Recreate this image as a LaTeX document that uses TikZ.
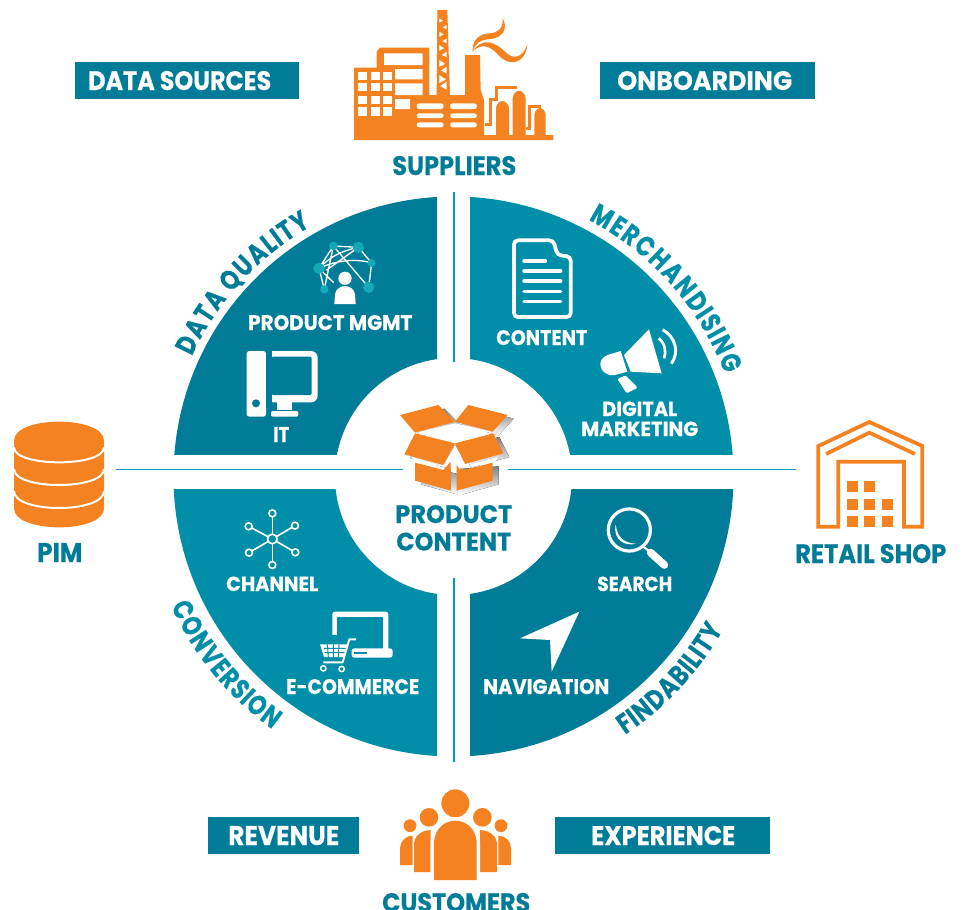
\documentclass[tikz,border=0pt]{standalone}
\usepackage{fontspec}
\setmainfont{Poppins}[BoldFeatures={FakeBold=0.35}]
\newfontfamily\arcfont[FakeStretch=0.8,BoldFeatures={FakeBold=0.35}]{Poppins}
\definecolor{tealdark}{HTML}{007C98}
\definecolor{teallight}{HTML}{008EA9}
\definecolor{linecyan}{HTML}{009DBB}
\definecolor{orangemain}{HTML}{F58220}
\definecolor{netteal}{HTML}{14A9B8}
\definecolor{shade}{HTML}{D1D3D4}
\newdimen\pxu \pxu=.75pt
\newbox\arcbox
\newdimen\arcd
% name, x, baseline y, width, height, colour, text
\newcommand{\lab}[7]{\node[anchor=base west,inner sep=0pt,text=#6] (#1) at (#2,#3) {\resizebox{#4\pxu}{#5\pxu}{\bfseries #7}};}
\newcommand{\arcset}{\arcfont\bfseries\fontsize{21}{21}\selectfont}
\newcommand{\arcmeasure}[1]{\setbox\arcbox=\hbox{\pgfinterruptpicture\arcset #1\endpgfinterruptpicture}\arcd=\wd\arcbox}
% name, colour, radius, start angle, end angle, letters
\newcommand{\arclab}[6]{%
 \gdef\arctot{0}%
 \foreach \c in {#6} {\arcmeasure{\c}\pgfmathparse{\arctot+\arcd}\global\let\arctot\pgfmathresult}%
 \gdef\arcacc{0}%
 \foreach \c [count=\i] in {#6} {%
  \arcmeasure{\c}%
  \pgfmathsetmacro{\arcw}{\arcd}%
  \pgfmathsetmacro{\arcang}{#4+(#5-#4)*(\arcacc+\arcw/2)/\arctot}%
  \pgfmathsetmacro{\arcrot}{\arcang+(#5<#4?-90:90)}%
  \node[anchor=base,inner sep=0pt,text=#2,font=\arcset,rotate=\arcrot] (#1\i) at ({453.5+#3*cos(\arcang)},{476.5-#3*sin(\arcang)}) {\c};
  \pgfmathparse{\arcacc+\arcw}\global\let\arcacc\pgfmathresult
 }%
}
\tikzset{
  zoomat/.style 2 args={shift={(#1,#2)},x=.25pt,y=-.25pt},
  banner/.style={fill=tealdark,draw=none},
  whiteline/.style={draw=white,line cap=round,line join=round},
  ball/.style={fill=netteal,draw=none}
}
\begin{document}
\begin{tikzpicture}[x=.75pt,y=-.75pt]
\useasboundingbox (0,0) rectangle (965,910);
% banners
\fill[banner] (75,62) rectangle (299,99);
\fill[banner] (600,62) rectangle (815,99);
\fill[banner] (208,817) rectangle (359,854);
\fill[banner] (555,817) rectangle (770,854);
\lab{ds}{88}{90}{183}{19}{white}{DATA SOURCES}
\lab{ob}{617}{90}{175}{19}{white}{ONBOARDING}
\lab{rev}{228}{845}{111}{19}{white}{REVENUE}
\lab{exp}{591}{845}{144}{19}{white}{EXPERIENCE}
\lab{sup}{392}{175}{124}{19}{tealdark}{SUPPLIERS}
\lab{pim}{37}{562}{45}{19}{tealdark}{PIM}
\lab{shop}{795}{563}{151}{19}{tealdark}{RETAIL SHOP}
\lab{cust}{382}{912}{148}{19}{tealdark}{CUSTOMERS}
\lab{pc1}{395}{523}{117}{18}{tealdark}{PRODUCT}
\lab{pc2}{396}{550.5}{115}{18}{tealdark}{CONTENT}
% quadrants
\coordinate (hub) at (453.5,476.5);
\begin{scope}
 \clip (0,0) rectangle (437,454.5);
 \fill[tealdark,even odd rule] (hub) circle[radius=210pt] (hub) circle[radius=88.9pt];
\end{scope}
\begin{scope}
 \clip (470,0) rectangle (965,454.5);
 \fill[teallight,even odd rule] (hub) circle[radius=210pt] (hub) circle[radius=88.9pt];
\end{scope}
\begin{scope}
 \clip (0,489) rectangle (437,910);
 \fill[teallight,even odd rule] (hub) circle[radius=210pt] (hub) circle[radius=88.9pt];
\end{scope}
\begin{scope}
 \clip (470,489) rectangle (965,910);
 \fill[tealdark,even odd rule] (hub) circle[radius=210pt] (hub) circle[radius=88.9pt];
\end{scope}
% axis lines
\coordinate (vt1) at (454,192); \coordinate (vt2) at (454,362);
\coordinate (vb1) at (454,578); \coordinate (vb2) at (454,762);
\coordinate (hl1) at (116,469.5); \coordinate (hl2) at (403,469.5);
\coordinate (hr1) at (508,469.5); \coordinate (hr2) at (796,469.5);
\draw[linecyan,line width=2pt] (vt1) -- (vt2);
\draw[linecyan,line width=2pt] (vb1) -- (vb2);
\draw[linecyan,line width=1.2pt] (hl1) -- (hl2);
\draw[linecyan,line width=1.2pt] (hr1) -- (hr2);
% curved labels
\arclab{dq}{tealdark}{288}{155.5}{119.5}{D,A,T,A,~,Q,U,A,L,I,T,Y}
\arclab{mc}{teallight}{290}{62.5}{20.5}{M,E,R,C,H,A,N,D,I,S,I,N,G}
\arclab{cv}{teallight}{311}{204.5}{234.5}{C,O,N,V,E,R,S,I,O,N}
\arclab{fd}{tealdark}{310}{-56.5}{-29.5}{F,I,N,D,A,B,I,L,I,T,Y}
% quadrant labels
\lab{pm}{248}{330}{164}{15}{white}{PRODUCT MGMT}
\lab{it}{273}{442}{16}{15}{white}{IT}
\lab{con}{496}{345}{91}{15}{white}{CONTENT}
\lab{dg}{602}{416}{75}{14.5}{white}{DIGITAL}
\lab{mk}{581}{436}{117}{14.5}{white}{MARKETING}
\lab{ch}{226}{591}{92}{14.5}{white}{CHANNEL}
\lab{ec}{286}{694}{133}{15}{white}{E-COMMERCE}
\lab{se}{597}{591}{75}{14.5}{white}{SEARCH}
\lab{na}{483}{694}{126}{15}{white}{NAVIGATION}
% factory
\begin{scope}[zoomat={340}{0}]
 \fill[orangemain] (42,420) -- (42,203) -- (110,203) -- (110,155) -- (120,143) -- (268,143) -- (268,285) -- (290,285) -- (292,30) -- (322,30) -- (330,285) -- (375,285) -- (375,165) -- (420,165) -- (422,270) -- (432,300) -- (432,405) -- (640,405) -- (640,420) -- cycle;
 \fill[white] (132,160) rectangle (248,195) (165,207) rectangle (248,238) (165,250) rectangle (248,285) (165,297) rectangle (210,327);
 \foreach \cx in {55,93,128} \foreach \cy/\hh in {217/23,250/23,288/24,322/26} {\fill[white] (\cx,\cy) rectangle ++(27,\hh);}
 \foreach \cx in {230,330} {\fill[white,rounded corners=2pt] (\cx,310) rectangle ++(81,17) (\cx,340) rectangle ++(81,14) (\cx,367) rectangle ++(81,15);}
 \foreach \ty/\tw in {55/.6,95/.7,135/.8,180/.95,225/1.1} {
  \fill[white] (298,\ty) -- ++(18*\tw,12*\tw) -- ++(-18*\tw,10*\tw) -- cycle;
  \fill[white] (320,\ty+20) -- ++(0,22*\tw) -- ++(-18*\tw,-10*\tw) -- cycle;
 }
 \fill[orangemain] (468,405) -- (468,325) .. controls (468,310) and (482,303) .. (487,303) .. controls (492,303) and (507,310) .. (507,325) -- (507,405) -- cycle;
 \fill[orangemain] (518,405) -- (518,295) .. controls (518,280) and (532,272) .. (537,272) .. controls (542,272) and (557,280) .. (557,295) -- (557,405) -- cycle;
 \fill[orangemain] (583,405) -- (583,345) .. controls (583,332) and (595,324) .. (600,324) .. controls (605,324) and (617,332) .. (617,345) -- (617,405) -- cycle;
 \draw[orangemain,line width=2pt] (470,300) -- (470,262) -- (530,262);
 \draw[orangemain,line width=2pt] (436,374) -- (452,374) -- (452,299) -- (474,299);
 \draw[orangemain,line width=2pt] (558,385) -- (568,385) -- (568,320) -- (602,320);
 \fill[orangemain] (398,155) .. controls (395,115) and (425,100) .. (450,100) .. controls (475,98) and (490,85) .. (488,55) .. controls (505,85) and (490,115) .. (445,118) .. controls (420,120) and (405,130) .. (398,155) -- cycle;
 \fill[orangemain] (398,155) .. controls (425,110) and (465,125) .. (495,155) .. controls (520,180) and (545,175) .. (562,135) .. controls (555,195) and (505,200) .. (475,165) .. controls (450,135) and (420,130) .. (398,155) -- cycle;
\end{scope}
% product mgmt icon
\begin{scope}[zoomat={170}{195}]
 \draw[whiteline,line width=1pt] (490,153) -- (565,157) (490,153) -- (447,220) (565,157) -- (605,204) (605,204) -- (596,277) (447,220) -- (463,283) (490,153) -- (596,277) (490,153) -- (463,283) (447,220) .. controls (490,175) and (530,165) .. (565,157) (447,220) .. controls (500,195) and (560,190) .. (605,204) (565,157) -- (470,225) (447,220) -- (490,262);
 \fill[ball] (490,153) circle[radius=3.2pt] (565,157) circle[radius=4.2pt] (605,204) circle[radius=3pt] (447,220) circle[radius=4.2pt] (463,283) circle[radius=3.2pt] (596,277) circle[radius=4.2pt];
 \fill[tealdark] (525,250) circle[radius=6.5pt];
 \fill[white] (525,250) circle[radius=5pt];
 \fill[tealdark] (485,335) -- (488,290) .. controls (495,262) and (555,262) .. (562,290) -- (565,335) -- cycle;
 \fill[white] (493,327) -- (495,298) .. controls (500,265) and (550,265) .. (555,298) -- (557,327) -- cycle;
 % IT icon
 \fill[white,rounded corners=2pt] (230,468) rectangle (288,665);
 \fill[tealdark] (258,625) circle[radius=3pt];
 \fill[white,rounded corners=5pt] (290,468) -- (443,468) -- (443,622) -- (290,622) -- cycle;
 \fill[tealdark] (288,460) rectangle (305,640);
 \fill[tealdark,rounded corners=1pt] (305,485) -- (425,485) -- (425,600) -- (305,600) -- cycle;
 \fill[white] (320,622) rectangle (365,645);
 \fill[white,rounded corners=1.5pt] (303,648) rectangle (385,665);
\end{scope}
% document and megaphone
\begin{scope}[zoomat={470}{195}]
 \draw[white,line width=2.8pt,rounded corners=3pt] (132,136) -- (250,136) -- (262,180) -- (302,185) -- (302,366) -- (132,366) -- cycle;
 \draw[whiteline,line width=2.6pt] (162,198) -- (226,198) (162,228) -- (272,228) (162,258) -- (272,258) (162,290) -- (272,290) (162,320) -- (272,320);
 \fill[white] (462,480) -- (537,403) -- (575,535) -- (482,530) -- cycle;
 \fill[white] (452,468) .. controls (425,478) and (395,478) .. (391,505) .. controls (390,530) and (415,545) .. (435,540) -- (472,530) -- cycle;
 \fill[white,rounded corners=1pt] (442,552) -- (466,541) -- (503,578) -- (470,595) -- cycle;
 \draw[white,line width=2pt] (566,430) .. controls (585,445) and (590,470) .. (582,490);
 \draw[white,line width=2.2pt] (578,404) .. controls (615,425) and (630,470) .. (604,506);
\end{scope}
% channel and e-commerce
\begin{scope}[zoomat={170}{485}]
 \foreach \sx/\sy in {307/85,375/122,376/202,307/240,237/203,236/124} {
  \draw[white,line width=1.2pt] (307,162) -- (\sx,\sy);
  \draw[white,line width=1.2pt,fill=teallight] (\sx,\sy) circle[radius=2.6pt];
 }
 \draw[white,line width=1.2pt,fill=teallight] (307,162) circle[radius=3.6pt];
 \fill[white,rounded corners=2pt] (487,380) rectangle (655,495);
 \fill[teallight] (502,397) rectangle (640,495);
 \fill[white,rounded corners=2pt] (545,490) rectangle (668,518);
 \fill[teallight] (553,502) rectangle (590,508);
 \fill[teallight] (440,450) rectangle (540,570);
 \fill[teallight] (530,452) rectangle (563,490);
 \fill[white] (450,478) -- (532,478) -- (521,516) -- (462,516) -- cycle;
 \draw[teallight,line width=.7pt] (462,490) -- (528,490) (464,503) -- (525,503) (472,478) -- (475,516) (490,478) -- (490,516) (507,478) -- (505,516);
 \draw[white,line width=1.4pt,line join=round] (558,463) -- (538,463) -- (518,532) -- (460,532);
 \draw[white,line width=1.1pt] (460,550) circle[radius=2pt] (515,552) circle[radius=2pt];
\end{scope}
% search and navigation
\begin{scope}[zoomat={470}{485}]
 \draw[white,line width=2.4pt] (478,135) circle[radius=15.8pt];
 \draw[white,line width=1.6pt] (520,185) -- (540,200);
 \draw[white,line width=5.8pt,line cap=round] (542,203) -- (583,240);
 \fill[white] (437,118) .. controls (428,165) and (465,185) .. (498,176) .. controls (465,175) and (442,160) .. (437,118) -- cycle;
 \fill[white] (328,380) -- (150,460) -- (240,465) -- (245,560) -- cycle;
\end{scope}
% box
\begin{scope}[zoomat={350}{390}]
 \begin{scope}[shift={(18,11)}]
  \fill[shade] (150,75) -- (265,45) -- (315,95) -- (195,128) -- cycle;
  \fill[shade] (355,45) -- (473,75) -- (428,125) -- (315,95) -- cycle;
  \fill[shade] (195,130) -- (315,160) -- (280,225) -- (163,193) -- cycle;
  \fill[shade] (315,160) -- (430,130) -- (460,190) -- (345,222) -- cycle;
  \fill[shade] (195,218) -- (303,240) -- (303,302) -- (195,272) -- cycle;
  \fill[shade] (320,225) -- (428,218) -- (428,272) -- (320,302) -- cycle;
 \end{scope}
 \fill[white] (205,127) -- (315,100) -- (420,125) -- (315,155) -- cycle;
 \fill[white] (185,200) -- (280,230) -- (315,165) -- (350,228) -- (445,200) -- (430,225) -- (195,225) -- cycle;
 \fill[orangemain] (195,218) -- (280,240) -- (302,215) -- (303,302) -- (195,272) -- cycle;
 \fill[orangemain] (320,225) -- (343,240) -- (428,218) -- (428,272) -- (320,302) -- cycle;
 \fill[orangemain] (150,75) -- (265,45) -- (315,95) -- (195,128) -- cycle;
 \fill[orangemain] (355,45) -- (473,75) -- (428,125) -- (315,95) -- cycle;
 \fill[orangemain] (195,130) -- (315,160) -- (280,225) -- (163,193) -- cycle;
 \fill[orangemain] (315,160) -- (430,130) -- (460,190) -- (345,222) -- cycle;
 \fill[white] (316,180) -- (303,212) -- (305,240) -- (318,222) -- (330,238) -- (335,225) -- cycle;
\end{scope}
% retail shop
\begin{scope}[zoomat={780}{410}]
 \draw[orangemain,line width=2.8pt] (115,350) -- (115,108) -- (268,36) -- (427,108) -- (427,350) -- (372,350) -- (372,155) -- (175,155) -- (175,350) -- cycle;
 \draw[orangemain,line width=2.8pt] (138,132) -- (268,68) -- (405,132);
 \foreach \bx/\by in {200/213,253/213,200/266,253/266,305/266,200/318,253/318,305/318} {\fill[orangemain] (\bx,\by) rectangle ++(33,33);}
\end{scope}
% customers
\begin{scope}[zoomat={370}{780}]
 \fill[orangemain] (120,137) circle[radius=4.8pt] (393,137) circle[radius=4.8pt] (177,112) circle[radius=7pt] (337,112) circle[radius=7pt] (256,70) circle[radius=10.5pt];
 \fill[orangemain] (90,255) -- (90,205) .. controls (90,185) and (105,168) .. (128,167) -- (128,255) -- cycle;
 \fill[orangemain] (423,255) -- (423,205) .. controls (423,185) and (408,168) .. (385,167) -- (385,255) -- cycle;
 \fill[orangemain] (132,276) -- (132,195) .. controls (132,170) and (150,152) .. (182,150) -- (182,276) -- cycle;
 \fill[orangemain] (381,276) -- (381,195) .. controls (381,170) and (363,152) .. (330,150) -- (330,276) -- cycle;
 \fill[white] (182,310) -- (182,185) .. controls (185,135) and (225,112) .. (256,112) .. controls (287,112) and (327,135) .. (330,185) -- (330,310) -- cycle;
 \fill[orangemain] (192,300) -- (192,185) .. controls (195,145) and (225,122) .. (256,122) .. controls (287,122) and (317,145) .. (320,185) -- (320,300) -- cycle;
\end{scope}
% database
\begin{scope}[zoomat={0}{410}]
 \fill[orangemain] (42,92) .. controls (42,16) and (312,16) .. (312,92) -- (312,295) .. controls (312,371) and (42,371) .. (42,295) -- cycle;
 \draw[white,line width=1.5pt] (42,112) .. controls (42,172) and (312,172) .. (312,112);
 \draw[white,line width=1.5pt] (42,177) .. controls (42,241) and (312,241) .. (312,177);
 \draw[white,line width=1.5pt] (42,243) .. controls (42,311) and (312,311) .. (312,243);
\end{scope}
\end{tikzpicture}
\end{document}
